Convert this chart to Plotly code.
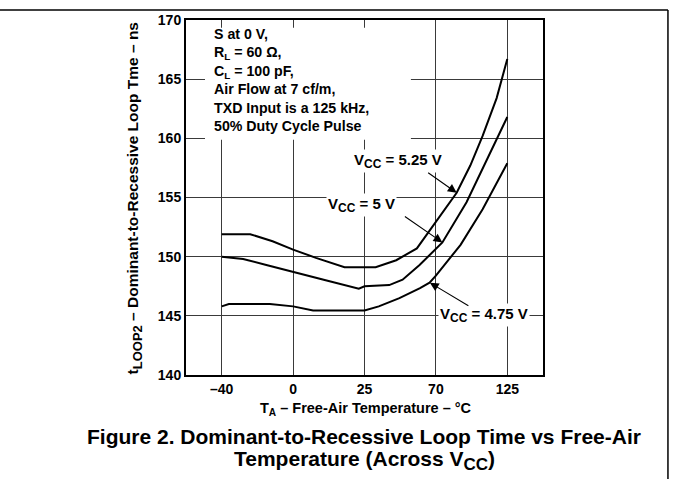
import numpy as np
import plotly.graph_objects as go

# ---- data ----
tick_temps = [-40, 0, 25, 70, 125]
tick_labels = ["–40", "0", "25", "70", "125"]
y_ticks = [140, 145, 150, 155, 160, 165, 170]

t_525 = [-40, -24, -11.5, 0, 8, 14, 18, 32, 45, 58, 70, 86, 96.5, 106, 116.8, 125]
v_525 = [151.9, 151.9, 151.3, 150.6, 149.9, 149.4, 149.1, 149.1, 149.7, 150.7, 152.9, 155.4, 157.7, 160.2, 163.4, 166.7]

t_500 = [-40, -28, -15, 0, 11.4, 23, 25, 40.6, 49, 59.7, 70, 75, 93.6, 109, 125]
v_500 = [150.0, 149.8, 149.3, 148.7, 148.0, 147.3, 147.5, 147.6, 148.05, 149.3, 150.6, 151.2, 154.6, 158.2, 161.8]

t_475 = [-40, -36, -13, 0, 7, 25, 34, 47, 60, 66, 70, 89, 106, 125]
v_475 = [145.8, 146.0, 146.0, 145.8, 145.45, 145.45, 145.8, 146.5, 147.35, 147.8, 148.4, 151.0, 154.0, 157.9]

FONT = "Liberation Sans, Arial, Helvetica, sans-serif"


def pos(t):
    # map temperature to the chart's evenly spaced tick positions
    return np.interp(t, tick_temps, np.arange(len(tick_temps)))


fig = go.Figure()
for t, v in [(t_525, v_525), (t_500, v_500), (t_475, v_475)]:
    fig.add_trace(go.Scatter(x=pos(t), y=v, mode="lines",
                             line=dict(color="black", width=2),
                             showlegend=False, hoverinfo="skip"))

axis_common = dict(showgrid=True, gridcolor="#3a3a3a", gridwidth=1,
                   showline=True, linecolor="black", linewidth=2, mirror=True,
                   zeroline=False, ticks="",
                   tickfont=dict(family=FONT, size=14, color="black", weight="bold"))

fig.update_layout(
    width=673, height=479,
    margin=dict(l=186, r=130, t=16, b=104),
    paper_bgcolor="white", plot_bgcolor="white",
    font=dict(family=FONT, color="black"),
    xaxis=dict(range=[-0.5, 4.5], tickvals=list(range(len(tick_temps))),
               ticktext=tick_labels, **axis_common),
    yaxis=dict(range=[140, 170], tickvals=y_ticks, **axis_common),
)

# frame lines of the page
fig.add_shape(type="line", xref="paper", yref="paper", x0=-0.53, x1=1.350,
              y0=1.028, y1=1.028, line=dict(color="black", width=1.5))
fig.add_shape(type="line", xref="paper", yref="paper", x0=1.350, x1=1.350,
              y0=1.028, y1=-0.32, line=dict(color="black", width=1.5))

# white box behind the conditions text
fig.add_shape(type="rect", xref="paper", yref="paper", x0=0.0532, x1=0.630,
              y0=0.663, y1=0.978, fillcolor="white", line=dict(width=0),
              layer="above")

fig.add_annotation(xref="paper", yref="paper", x=0.0728, y=0.988,
                   xanchor="left", yanchor="top", align="left", showarrow=False,
                   text=("S at 0 V,<br>R<sub>L</sub> = 60 Ω,<br>C<sub>L</sub> = 100 pF,"
                         "<br>Air Flow at 7 cf/m,<br>TXD Input is a 125 kHz,"
                         "<br>50% Duty Cycle Pulse"),
                   font=dict(family=FONT, size=14.2, color="black", weight="bold"))

# curve labels
SUB = '<sub><span style="font-size:12px">CC</span></sub>'
labels = [("V" + SUB + " = 5.25 V", 2.475, 158.1),
          ("V" + SUB + " = 5 V", 1.96, 154.4),
          ("V" + SUB + " = 4.75 V", 3.67, 145.1)]
for txt, x, y in labels:
    fig.add_annotation(x=x, y=y, text=txt, showarrow=False, bgcolor="white",
                       borderpad=1, xanchor="center", yanchor="middle",
                       font=dict(family=FONT, size=15, color="black", weight="bold"))

# arrows (tip on curve, tail offset in pixels)
arrows = [(86, 155.4, -30, -21), (75, 151.2, -39, -27), (66.2, 147.8, 40, 24)]
for t, v, ax, ay in arrows:
    fig.add_annotation(x=float(pos(t)), y=v, text="", showarrow=True,
                       ax=ax, ay=ay, arrowhead=2, arrowsize=1.6, arrowwidth=1.1,
                       arrowcolor="black", standoff=0, startstandoff=0)

# axis titles
fig.add_annotation(xref="paper", yref="paper", x=-0.146, y=0.497, textangle=-90,
                   xanchor="center", yanchor="middle", showarrow=False,
                   text=('t<sub><span style="font-size:13px">LOOP2</span></sub>'
                         ' – Dominant-to-Recessive Loop Tme – ns'),
                   font=dict(family=FONT, size=15.5, color="black", weight="bold"))
fig.add_annotation(xref="paper", yref="paper", x=0.504, y=-0.0947,
                   xanchor="center", yanchor="middle", showarrow=False,
                   text="T<sub>A</sub> – Free-Air Temperature – °C",
                   font=dict(family=FONT, size=14.5, color="black", weight="bold"))

# caption
cap = dict(family=FONT, size=21, color="black", weight="bold")
fig.add_annotation(xref="paper", yref="paper", x=0.4986, y=-0.1727, showarrow=False,
                   xanchor="center", yanchor="middle",
                   text="Figure 2. Dominant-to-Recessive Loop Time vs Free-Air", font=cap)
fig.add_annotation(xref="paper", yref="paper", x=0.4986, y=-0.2396, showarrow=False,
                   xanchor="center", yanchor="middle",
                   text='Temperature (Across V<sub><span style="font-size:17px">CC</span></sub>)',
                   font=cap)

fig.write_html("out.html", config={"displayModeBar": False},
               post_script="document.body.style.margin='0';")
